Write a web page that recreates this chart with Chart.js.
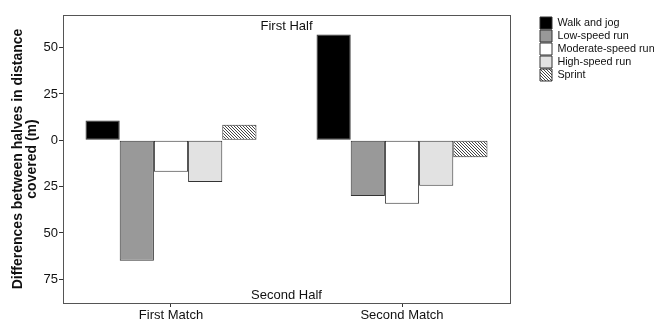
<!DOCTYPE html>
<html>
<head>
<meta charset="utf-8">
<script src="https://cdn.jsdelivr.net/npm/chart.js@4"></script>
<style>
  html, body { margin: 0; padding: 0; background: #fff; }
  #wrap { width: 654px; height: 320px; }
</style>
</head>
<body>
<div id="wrap"><canvas id="myChart" width="654" height="320"></canvas></div>
<script>
// values (m, first half minus second half)
const categories = ["First Match", "Second Match"];
const seriesNames = ["Walk and jog", "Low-speed run", "Moderate-speed run", "High-speed run", "Sprint"];
const walkJog = [10.7, 57.1];
const lowSpeedRun = [-65, -30];
const moderateSpeedRun = [-17, -34.3];
const highSpeedRun = [-22.5, -24.6];
const sprint = [8.4, -9.1];
const yTickValues = [-75, -50, -25, 0, 25, 50];

const FONT = "'Liberation Sans', Arial, sans-serif";

function makeHatch() {
  const c = document.createElement("canvas");
  c.width = 3;
  c.height = 3;
  const ctx = c.getContext("2d");
  ctx.fillStyle = "#fff";
  ctx.fillRect(0, 0, 3, 3);
  ctx.fillStyle = "#444";
  for (let i = 0; i < 3; i++) ctx.fillRect(i, i, 1, 1);
  return ctx.createPattern(c, "repeat");
}

const fills = ["#000000", "#999999", "#ffffff", "#e2e2e2", makeHatch()];
const values = [walkJog, lowSpeedRun, moderateSpeedRun, highSpeedRun, sprint];

const datasets = seriesNames.map((name, i) => ({
  label: name,
  data: values[i].map((v, j) => ({ x: j, y: v })),
  backgroundColor: fills[i],
  borderColor: "#333",
  borderWidth: 1,
  borderSkipped: false,
  barPercentage: 1,
  categoryPercentage: 0.74,
}));

// frame round the plot plus the two half labels
const frameAndNotes = {
  id: "frameAndNotes",
  afterDraw(chart) {
    const { ctx, chartArea } = chart;
    const cx = (chartArea.left + chartArea.right) / 2;
    ctx.save();
    ctx.strokeStyle = "#555";
    ctx.lineWidth = 1;
    ctx.strokeRect(Math.round(chartArea.left) + 0.5, Math.round(chartArea.top) + 0.5,
      Math.round(chartArea.right - chartArea.left), Math.round(chartArea.bottom - chartArea.top));
    ctx.fillStyle = "#111";
    ctx.font = "13px " + FONT;
    ctx.textAlign = "center";
    ctx.textBaseline = "middle";
    ctx.fillText("First Half", cx, chartArea.top + 11);
    ctx.fillText("Second Half", cx, chartArea.bottom - 8);
    ctx.restore();
  },
};

// fixed legend column with a gap between plot and legend
const LEGEND_WIDTH = 144;
const LEGEND_SHIFT = 29;
const legendGap = {
  id: "legendGap",
  beforeUpdate(chart) {
    const lg = chart.legend;
    if (lg && !lg._gapPatched) {
      const fit = lg.fit;
      lg.fit = function () {
        fit.call(this);
        this.width = LEGEND_WIDTH;
      };
      lg._gapPatched = true;
    }
  },
  afterLayout(chart) {
    const lg = chart.legend;
    if (lg) {
      lg.left += LEGEND_SHIFT;
      lg.top += 1;
    }
  },
};

new Chart(document.getElementById("myChart"), {
  type: "bar",
  data: { datasets },
  plugins: [frameAndNotes, legendGap],
  options: {
    responsive: false,
    animation: false,
    layout: { padding: { top: 15, right: 0, left: 0, bottom: 0 } },
    plugins: {
      tooltip: { enabled: false },
      legend: {
        position: "right",
        align: "start",
        labels: {
          boxWidth: 12,
          boxHeight: 12,
          padding: 1,
          color: "#111",
          font: { family: FONT, size: 10.8, lineHeight: 1.17 },
        },
      },
    },
    scales: {
      x: {
        type: "linear",
        offset: false,
        min: -0.4675,
        max: 1.4675,
        afterBuildTicks(scale) {
          scale.ticks = categories.map((c, i) => ({ value: i }));
        },
        grid: { display: true, offset: false, drawOnChartArea: false, drawTicks: true, tickLength: 4, color: "#333" },
        border: { display: false },
        ticks: {
          color: "#111",
          padding: 1,
          maxRotation: 0,
          font: { family: FONT, size: 13 },
          callback: (v) => categories[v],
        },
        afterFit(scale) { scale.height = 17; },
      },
      y: {
        min: -87.8,
        max: 67.6,
        afterBuildTicks(scale) {
          scale.ticks = yTickValues.map((v) => ({ value: v }));
        },
        grid: { display: true, drawOnChartArea: false, drawTicks: true, tickLength: 4, color: "#333" },
        border: { display: false },
        ticks: {
          color: "#111",
          padding: 1,
          font: { family: FONT, size: 13 },
          callback: (v) => Math.abs(v),
        },
        title: {
          display: true,
          text: ["Differences between halves in distance", "covered (m)"],
          color: "#111",
          padding: { top: 11, bottom: 2 },
          font: { family: FONT, size: 14, weight: "bold", lineHeight: 1.0 },
        },
        afterFit(scale) { scale.width = 63; },
      },
    },
  },
});
</script>
</body>
</html>
